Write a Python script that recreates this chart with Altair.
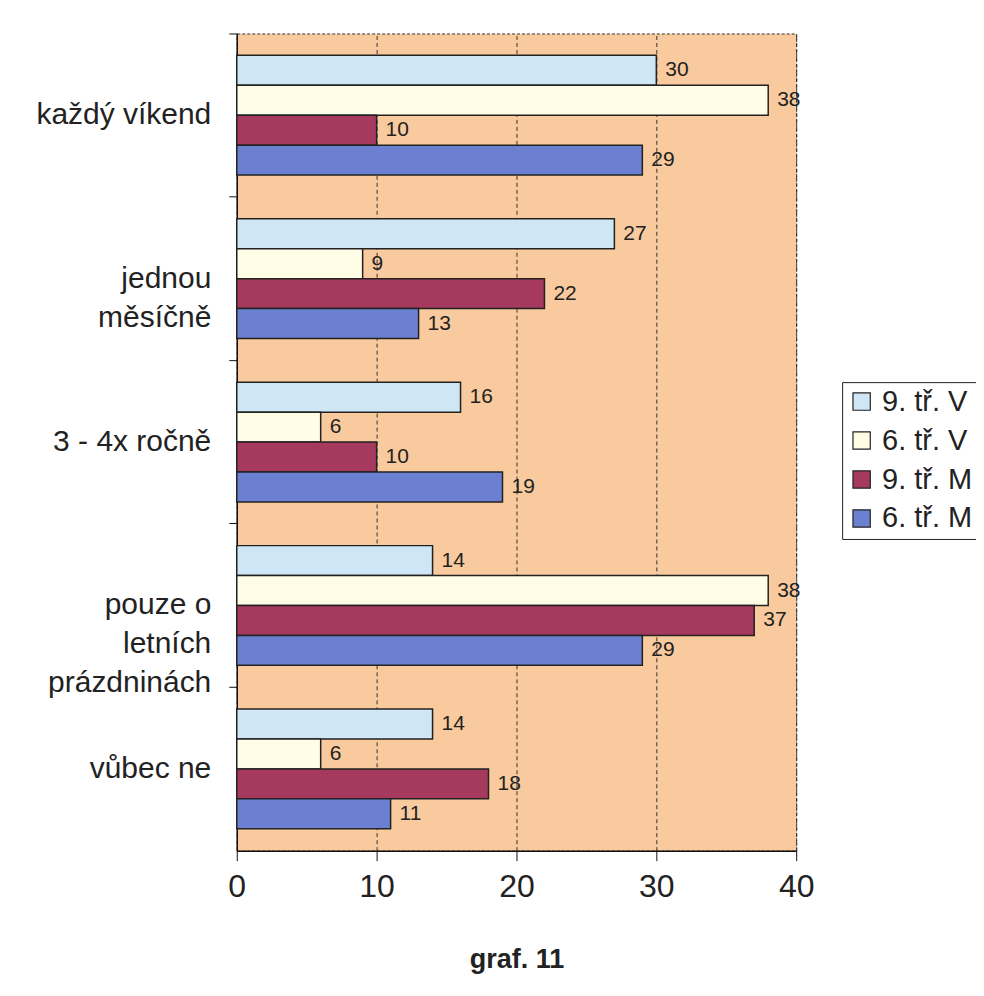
import altair as alt
import pandas as pd

categories = ["každý víkend", "jednou|měsíčně", "3 - 4x ročně", "pouze o|letních|prázdninách", "vůbec ne"]
series = ["9. tř. V", "6. tř. V", "9. tř. M", "6. tř. M"]
colors = ["#CFE6F5", "#FFFDE6", "#A63A5E", "#6B80D0"]
values = {
    "9. tř. V": [30, 27, 16, 14, 14],
    "6. tř. V": [38, 9, 6, 38, 6],
    "9. tř. M": [10, 22, 10, 37, 18],
    "6. tř. M": [29, 13, 19, 29, 11],
}
x_ticks = [0, 10, 20, 30, 40]

rows = []
for s in series:
    for c, v in zip(categories, values[s]):
        rows.append({"cat": c, "series": s, "value": v})
df = pd.DataFrame(rows)

FONT = "Liberation Sans"

y_enc = alt.Y("cat:N", sort=categories, scale=alt.Scale(paddingInner=0, paddingOuter=0),
              axis=alt.Axis(title=None, bandPosition=0, labelExpr="split(datum.label, '|')",
                            labelFontSize=30, labelColor="#222", labelFont=FONT,
                            labelLineHeight=39, labelPadding=18, tickSize=8, tickColor="#111",
                            domainColor="#111", domainWidth=1.5, labelAlign="right", labelBaseline="middle"))
yoff = alt.YOffset("series:N", sort=series, scale=alt.Scale(paddingInner=0, paddingOuter=0.73))
x_enc = alt.X("value:Q", scale=alt.Scale(domain=[0, 40], nice=False),
              axis=alt.Axis(values=x_ticks, title="graf. 11", titleFontSize=27, titleFontWeight="bold",
                            titleColor="#222", titleFont=FONT, titlePadding=44,
                            labelFontSize=32, labelColor="#222", labelFont=FONT, labelPadding=11,
                            labelFlush=False,
                            tickSize=10, tickColor="#111", domainColor="#111", domainWidth=1.5,
                            grid=True, gridColor="#333", gridDash=[4, 3], gridWidth=1))

bars = alt.Chart(df).mark_bar(stroke="#222", strokeWidth=1.5).encode(
    x=x_enc, y=y_enc, yOffset=yoff,
    color=alt.Color("series:N", sort=series, scale=alt.Scale(domain=series, range=colors),
                    legend=alt.Legend(title=None, orient="none", legendX=606, legendY=349,
                                      labelFontSize=29, labelFont=FONT, labelColor="#222",
                                      symbolType="square", symbolSize=300, symbolStrokeColor="#222",
                                      symbolStrokeWidth=1.2, rowPadding=9, padding=5,
                                      strokeColor="#222", fillColor="white", labelOffset=6)),
)

labels = alt.Chart(df).mark_text(align="left", baseline="middle", dx=9, fontSize=21,
                                 font=FONT, color="#222").encode(
    x="value:Q", y=alt.Y("cat:N", sort=categories), yOffset=alt.YOffset("series:N", sort=series),
    text="value:Q",
)

chart = alt.layer(bars, labels).properties(
    width=560, height=818,
    autosize=alt.AutoSizeParams(type="none"),
    padding={"left": 229, "top": 25, "right": 180, "bottom": 140},
).configure_view(
    fill="#F9CA9D", stroke="#333", strokeDash=[3, 2], strokeWidth=1,
)

chart.save("out.html", embed_options={"renderer": "svg", "actions": False})
